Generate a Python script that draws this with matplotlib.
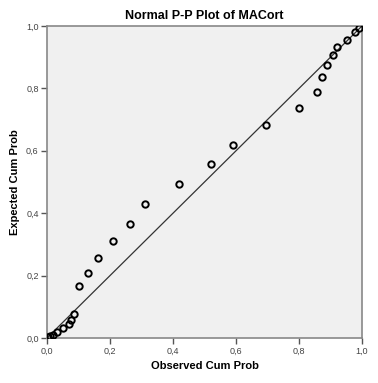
import numpy as np
import matplotlib.pyplot as plt

# observed / expected cumulative probabilities
observed = [0.003, 0.010, 0.019, 0.033, 0.052, 0.071, 0.077, 0.086, 0.10, 0.13,
            0.162, 0.21, 0.263, 0.311, 0.419, 0.52, 0.59, 0.695, 0.80, 0.857,
            0.873, 0.889, 0.908, 0.921, 0.952, 0.978, 0.99]
expected = [0.002, 0.005, 0.010, 0.020, 0.032, 0.045, 0.058, 0.077, 0.167, 0.208,
            0.256, 0.311, 0.365, 0.429, 0.494, 0.558, 0.619, 0.683, 0.737, 0.788,
            0.837, 0.875, 0.907, 0.933, 0.955, 0.98, 0.994]
ticks = [0.0, 0.2, 0.4, 0.6, 0.8, 1.0]
tick_labels = ['0,0', '0,2', '0,4', '0,6', '0,8', '1,0']

plt.rcParams['font.family'] = ['Liberation Sans', 'DejaVu Sans']

fig = plt.figure(figsize=(3.78, 3.83), dpi=100)
ax = fig.add_axes([47 / 378, 45 / 383, 315 / 378, 312 / 383])
ax.set_facecolor('#f0f0f0')

# reference line
ax.plot([0, 1], [0, 1], color='#333333', lw=0.9, zorder=2)
ax.plot(observed, expected, 'o', mfc='none', mec='black', ms=4.6, mew=1.4, zorder=3)

ax.set_xlim(0, 1)
ax.set_ylim(0, 1)
ax.set_xticks(ticks)
ax.set_xticklabels(tick_labels)
ax.set_yticks(ticks)
ax.set_yticklabels(tick_labels)
ax.tick_params(direction='out', length=4, width=1, color='#555555',
               labelsize=6.5, labelcolor='#444444', pad=2)
for s in ax.spines.values():
    s.set_color('#888888')
    s.set_linewidth(1.2)

ax.set_title('Normal P-P Plot of MACort', fontsize=9, fontweight='bold', pad=5)
ax.set_xlabel('Observed Cum Prob', fontsize=8, fontweight='bold', labelpad=4)
ax.set_ylabel('Expected Cum Prob', fontsize=8, fontweight='bold')
ax.yaxis.set_label_coords(-0.085, 0.5)

fig.savefig('out.png', dpi=100)
